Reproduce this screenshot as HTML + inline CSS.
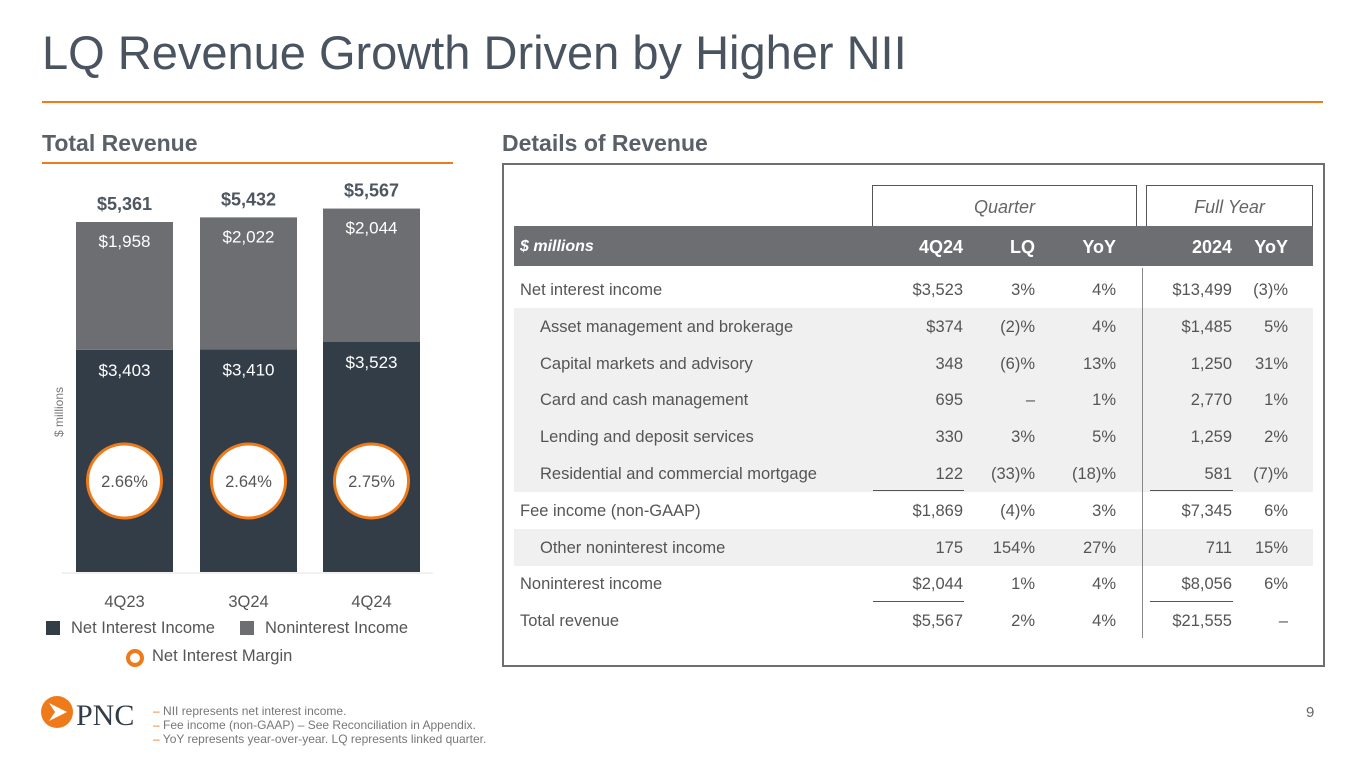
<!DOCTYPE html>
<html><head><meta charset="utf-8"><style>
body{margin:0;width:1365px;height:768px;background:#fff;font-family:"Liberation Sans",sans-serif;position:relative;overflow:hidden;color:#4d5661}
.abs{position:absolute}
#tbl div{position:absolute}
</style></head><body>
<div class="abs" style="left:42px;top:25px;font-size:47px;color:#4a5461;">LQ Revenue Growth Driven by Higher NII</div>
<div class="abs" style="left:42px;top:101px;width:1281px;height:2px;background:#ef7a1a"></div>
<div class="abs" style="left:42px;top:130px;font-size:23px;font-weight:bold;color:#5a6068">Total Revenue</div>
<div class="abs" style="left:42px;top:162px;width:411px;height:2px;background:#ef7a1a"></div>
<div class="abs" style="left:502px;top:130px;font-size:23px;font-weight:bold;color:#5a6068">Details of Revenue</div>

<svg class="abs" style="left:0;top:0" width="470" height="680" id="chart"></svg>

<div class="abs" style="left:46px;top:621px;width:14px;height:14px;background:#333d47"></div>
<div class="abs" style="left:71px;top:619px;font-size:16.5px;color:#555">Net Interest Income</div>
<div class="abs" style="left:240px;top:621px;width:14px;height:14px;background:#6d6e72"></div>
<div class="abs" style="left:265px;top:619px;font-size:16.5px;color:#555">Noninterest Income</div>
<div class="abs" style="left:126px;top:649px;width:10px;height:10px;border:4px solid #ef7a1a;border-radius:50%"></div>
<div class="abs" style="left:152px;top:647px;font-size:16.5px;color:#555">Net Interest Margin</div>

<div class="abs" style="left:502px;top:163px;width:819px;height:500px;border:2px solid #6d6e71"></div>
<div id="tbl" class="abs" style="left:0;top:0;width:1365px;height:768px"></div>

<svg class="abs" style="left:40px;top:695px" width="110" height="40">
<circle cx="17" cy="17" r="16" fill="#ef7a1a"/><path d="M9 8 L27 17 L9 26 L15 17Z" fill="#fff"/>
<text x="36" y="30" font-family="Liberation Serif" font-size="30" fill="#333d47">PNC</text></svg>
<div class="abs" style="left:153px;top:704px;font-size:12px;line-height:14px;color:#777">
<div><span style="color:#ef7a1a">–</span> NII represents net interest income.</div>
<div><span style="color:#ef7a1a">–</span> Fee income (non-GAAP) – See Reconciliation in Appendix.</div>
<div><span style="color:#ef7a1a">–</span> YoY represents year-over-year. LQ represents linked quarter.</div></div>
<div class="abs" style="left:1306px;top:704px;font-size:15px;color:#666">9</div>

<script>
const categories=["4Q23","3Q24","4Q24"];
const nii=[3403,3410,3523];
const nonint=[1958,2022,2044];
const nim=["2.66%","2.64%","2.75%"];
const NS="http://www.w3.org/2000/svg";
const svg=document.getElementById('chart');
const base=572, k=350/5361;
const y=v=>base-v*k;
function mk(t,a,txt){const e=document.createElementNS(NS,t);for(const p in a)e.setAttribute(p,a[p]);if(txt!==undefined)e.textContent=txt;svg.appendChild(e);return e;}
const xs=[76,200,323],bw=97;
let e=mk('line',{x1:62,x2:433,y1:base+1,y2:base+1,stroke:'#e3e3e3','stroke-width':1});

e=mk('text',{x:0,y:0,transform:'translate(63,412) rotate(-90)','text-anchor':'middle','font-size':12,fill:'#777'},'$ millions');

categories.forEach((c,i)=>{
 const cx=xs[i]+bw/2,tot=nii[i]+nonint[i];
 e=mk('rect',{x:xs[i],y:y(nii[i]),width:bw,height:nii[i]*k,fill:'#333d47'});
 
 e=mk('rect',{x:xs[i],y:y(tot),width:bw,height:nonint[i]*k,fill:'#6d6e72'});
 
 e=mk('text',{x:cx,y:y(tot)-12,'text-anchor':'middle','font-size':18,'font-weight':'bold',fill:'#4d5661'},'$'+tot.toLocaleString('en-US'));
 
 e=mk('text',{x:cx,y:y(tot)+25,'text-anchor':'middle','font-size':17,fill:'#fff'},'$'+nonint[i].toLocaleString('en-US'));
 
 e=mk('text',{x:cx,y:y(nii[i])+26,'text-anchor':'middle','font-size':17,fill:'#fff'},'$'+nii[i].toLocaleString('en-US'));
 
 e=mk('circle',{cx:cx,cy:481,r:37,fill:'#fff',stroke:'#ef7a1a','stroke-width':3});
 
 e=mk('text',{x:cx,y:487,'text-anchor':'middle','font-size':16.5,fill:'#555'},nim[i]);
 
 e=mk('text',{x:cx,y:607,'text-anchor':'middle','font-size':16.5,fill:'#555'},c);
 
});

const rows=[
["Net interest income","$3,523","3%","4%","$13,499","(3)%",0],
["Asset management and brokerage","$374","(2)%","4%","$1,485","5%",1],
["Capital markets and advisory","348","(6)%","13%","1,250","31%",1],
["Card and cash management","695","–","1%","2,770","1%",1],
["Lending and deposit services","330","3%","5%","1,259","2%",1],
["Residential and commercial mortgage","122","(33)%","(18)%","581","(7)%",1],
["Fee income (non-GAAP)","$1,869","(4)%","3%","$7,345","6%",0],
["Other noninterest income","175","154%","27%","711","15%",1],
["Noninterest income","$2,044","1%","4%","$8,056","6%",0],
["Total revenue","$5,567","2%","4%","$21,555","–",0]];
const T=document.getElementById('tbl');
function d(css,txt,name){const el=document.createElement('div');el.style.cssText=css;if(txt!==undefined)el.textContent=txt;


T.appendChild(el);return el;}
d('left:872px;top:185px;width:265px;height:41px;border:1px solid #555;border-bottom:none;box-sizing:border-box;text-align:center;line-height:43px;font-style:italic;font-size:18px;color:#666','Quarter','quarter-header');
d('left:1146px;top:185px;width:167px;height:41px;border:1px solid #555;border-bottom:none;box-sizing:border-box;text-align:center;line-height:43px;font-style:italic;font-size:18px;color:#666','Full Year','full-year-header');
d('left:514px;top:226px;width:799px;height:40px;background:#6d6e71','','header-band');
d('left:520px;top:227px;line-height:40px;color:#fff;font-weight:bold;font-style:italic;font-size:16px','$ millions','header-label');
const colR=[963,1035,1116,1232,1288],heads=["4Q24","LQ","YoY","2024","YoY"];
heads.forEach((h,j)=>d(`left:${colR[j]-100}px;width:100px;text-align:right;top:227px;line-height:40px;color:#fff;font-weight:bold;font-size:18px`,h,'column-header'));
rows.forEach((r,i)=>{
 const top=271+i*36.8;
 if(r[6]) d(`left:514px;top:${top}px;width:799px;height:37px;background:#f0f0f0`,'','row-band');
 d(`left:${r[6]?540:520}px;top:${top+1}px;line-height:37px;font-size:16.5px;color:#555;white-space:nowrap`,r[0],'row-label');
 for(let j=0;j<5;j++) d(`left:${colR[j]-100}px;width:100px;text-align:right;top:${top+1}px;line-height:37px;font-size:16.5px;color:#555`,r[j+1],'cell');
});
d('left:1142px;top:268px;width:1px;height:370px;background:#888','','column-divider');
[490,601].forEach(yy=>{d(`left:873px;top:${yy}px;width:91px;height:1px;background:#555`,'','subtotal-rule');d(`left:1150px;top:${yy}px;width:83px;height:1px;background:#555`,'','subtotal-rule');});
</script>
</body></html>
